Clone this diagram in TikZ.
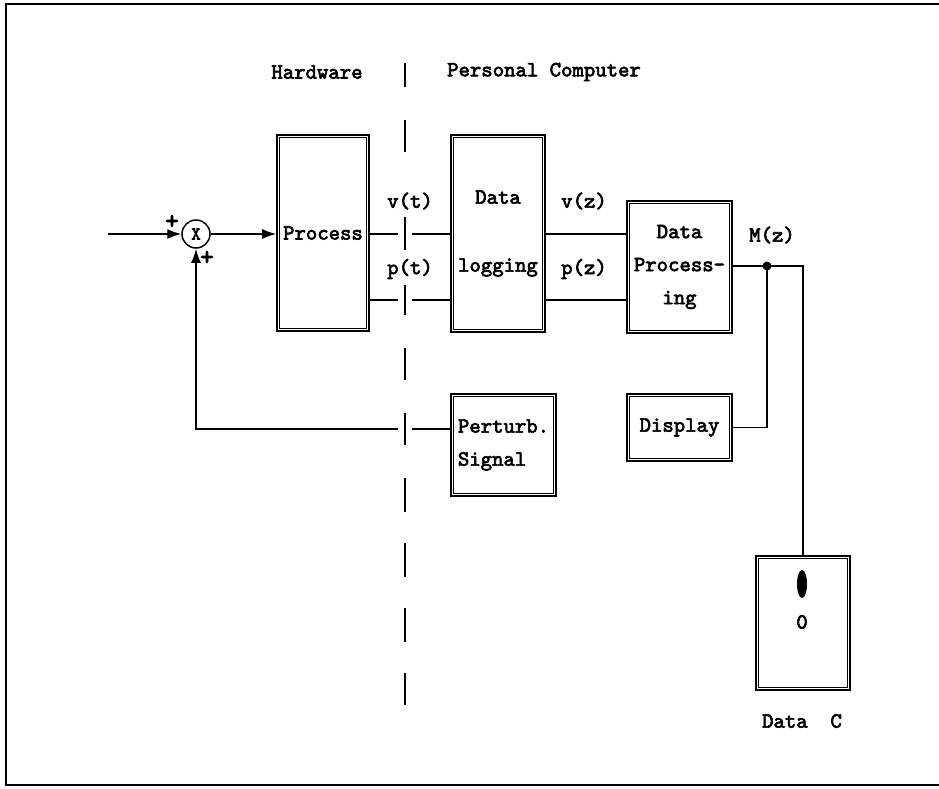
\documentclass[tikz,border=0pt]{standalone}
\usepackage{fontspec}
\setmonofont{lmmono10-regular.otf}[AutoFakeBold=3]
\usetikzlibrary{arrows.meta}
\newcommand{\diafont}{\fontsize{21.7}{23}\selectfont\ttfamily\bfseries}
\tikzset{
  block/.style={draw, line width=1.6pt, inner sep=0pt, font=\diafont,
    append after command={\pgfextra{
      \draw[line width=0.8pt] ([shift={(3.6pt,-3.6pt)}]\tikzlastnode.north west)
        rectangle ([shift={(-3.6pt,3.6pt)}]\tikzlastnode.south east);}}},
  conn/.style={line width=1.5pt},
  arr/.style={-{Latex[length=14pt,width=10pt]}},
  lbl/.style={font=\diafont, inner sep=1pt},
  plus/.style={font=\fontsize{26}{26}\selectfont\ttfamily\bfseries, inner sep=0pt}
}
\begin{document}
\begin{tikzpicture}[x=1pt,y=-1pt]
  \useasboundingbox (0,0) rectangle (939,788);
  % frame
  \draw[line width=1.6pt] (939,4) -- (6,4) -- (6,785) -- (939,785);

  % headings
  \node[lbl] (hw) at (317,72) {Hardware};
  \node[lbl] (pc) at (544,72) {Personal Computer};

  % blocks
  \node[block, minimum width=92pt, minimum height=196pt] (proc) at (323,233) {Process};
  \node[block, minimum width=94pt, minimum height=197pt, align=center] (logging) at (498,233.5) {Data\\[45pt]logging};
  \node[block, minimum width=105pt, minimum height=132pt, align=center,
    font=\fontsize{21.7}{33}\selectfont\ttfamily\bfseries] (dproc) at (679.5,267) {Data\\Process-\\ing};
  \node[block, minimum width=105pt, minimum height=67pt] (display) at (679.5,427.5) {Display};
  \node[block, minimum width=105pt, minimum height=102pt, align=left,
    font=\fontsize{21.7}{33}\selectfont\ttfamily\bfseries] (perturb) at (503.5,445) {Perturb.\\Signal};
  \node[block, minimum width=94pt, minimum height=134pt] (datac) at (803,623) {};
  \fill (802,584) ellipse (5pt and 14pt);
  \node[lbl] (zero) at (802,622) {0};
  \node[lbl] (datalbl) at (802,721) {Data~~C};

  % summing point
  \node[draw, circle, line width=1.5pt, minimum size=28pt, inner sep=0pt,
    font=\fontsize{18}{18}\selectfont\ttfamily\bfseries] (sum) at (196,234) {X};
  \node[plus] (plusa) at (172,222) {+};
  \node[plus] (plusb) at (207,258) {+};

  % signal rows
  \coordinate (in) at (108,234);
  \coordinate (vrow) at (0,234);
  \coordinate (prow) at (0,300);
  \coordinate (fb) at (0,429);
  \coordinate (mz) at (767,266);

  \draw[conn, arr] (in) -- (sum);
  \draw[conn, arr] (sum) -- (sum -| proc.west);
  \draw[conn] (proc.east |- vrow) -- (logging.west |- vrow);
  \draw[conn] (proc.east |- prow) -- (logging.west |- prow);
  \draw[conn] (logging.east |- vrow) -- (dproc.west |- vrow);
  \draw[conn] (logging.east |- prow) -- (dproc.west |- prow);
  \draw[conn] (dproc.east |- mz) -- (mz) -- (mz -| datac.north) -- (datac.north);
  \draw[conn] (display.east) -| (mz);
  \fill (mz) circle (4.5pt);
  \draw[conn, arr] (perturb.west |- fb) -| (sum.south);

  % signal labels
  \node[lbl] (vt) at (410,201) {v(t)};
  \node[lbl] (pt) at (410,269) {p(t)};
  \node[lbl] (vz) at (584,201) {v(z)};
  \node[lbl] (pz) at (584,269) {p(z)};
  \node[lbl] (mzl) at (772,235) {M(z)};

  % hardware / computer divider
  \foreach \ya/\yb in {63/87,120/152,217/250,285/315,348/380,413/445,478/512,543/577,608/642,673/705}
    \draw[line width=1.3pt, preaction={draw=white, line width=14pt}] (405,\ya) -- (405,\yb);
\end{tikzpicture}
\end{document}
